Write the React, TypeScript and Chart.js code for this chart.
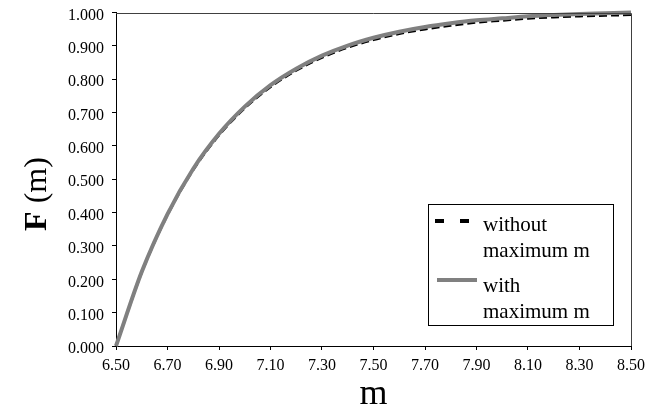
import React, { useEffect, useRef } from "react";
import { Chart, registerables } from "chart.js";

Chart.register(...registerables);

const magnitudes = [6.5, 6.6, 6.7, 6.8, 6.9, 7.0, 7.1, 7.2, 7.3, 7.4, 7.5, 7.6, 7.7, 7.8, 7.9, 8.0, 8.1, 8.2, 8.3, 8.4, 8.5];
const withoutMax = [0, 0.221, 0.393, 0.528, 0.632, 0.713, 0.777, 0.826, 0.865, 0.895, 0.918, 0.936, 0.95, 0.961, 0.97, 0.976, 0.982, 0.986, 0.989, 0.991, 0.993];
const withMax = [0, 0.2225, 0.3957, 0.5316, 0.6363, 0.7178, 0.7822, 0.8316, 0.8708, 0.901, 0.9242, 0.9423, 0.9564, 0.9675, 0.9765, 0.9826, 0.9886, 0.9926, 0.9957, 0.9977, 1.0];
const xTitle = "m";
const yTitleBold = "F";
const yTitleRest = " (m)";
const legendWithout = ["without", "maximum m"];
const legendWith = ["with", "maximum m"];

const SERIF = '"Liberation Serif", "Times New Roman", serif';

const overlayPlugin = {
  id: "overlay",
  afterDraw(chart: any) {
    const ctx = chart.ctx as CanvasRenderingContext2D;
    const a = chart.chartArea;
    ctx.save();
    // plot border (top and right)
    ctx.strokeStyle = "#404040";
    ctx.lineWidth = 1;
    ctx.beginPath();
    ctx.moveTo(a.left, Math.round(a.top) + 0.5);
    ctx.lineTo(Math.round(a.right) + 0.5, Math.round(a.top) + 0.5);
    ctx.lineTo(Math.round(a.right) + 0.5, a.bottom);
    ctx.stroke();

    // x title
    ctx.fillStyle = "#000";
    ctx.font = `36px ${SERIF}`;
    ctx.textAlign = "center";
    ctx.textBaseline = "alphabetic";
    ctx.fillText(xTitle, (a.left + a.right) / 2, 404);

    // y title
    ctx.save();
    ctx.translate(46, 194);
    ctx.rotate(-Math.PI / 2);
    ctx.font = `bold 32px ${SERIF}`;
    const wb = ctx.measureText(yTitleBold).width;
    ctx.font = `32px ${SERIF}`;
    const wr = ctx.measureText(yTitleRest).width;
    const start = -(wb + wr) / 2;
    ctx.textAlign = "left";
    ctx.font = `bold 32px ${SERIF}`;
    ctx.fillText(yTitleBold, start, 0);
    ctx.font = `32px ${SERIF}`;
    ctx.fillText(yTitleRest, start + wb, 0);
    ctx.restore();

    // legend
    const lx = 428, ly = 204, lw = 185, lh = 121;
    ctx.fillStyle = "#fff";
    ctx.fillRect(lx, ly, lw, lh);
    ctx.strokeStyle = "#000";
    ctx.lineWidth = 1;
    ctx.strokeRect(lx + 0.5, ly + 0.5, lw, lh);

    ctx.lineWidth = 4;
    ctx.strokeStyle = "#000";
    ctx.setLineDash([9, 16]);
    ctx.beginPath();
    ctx.moveTo(435, 221);
    ctx.lineTo(477, 221);
    ctx.stroke();
    ctx.setLineDash([]);
    ctx.strokeStyle = "#808080";
    ctx.beginPath();
    ctx.moveTo(437, 280);
    ctx.lineTo(477, 280);
    ctx.stroke();

    ctx.fillStyle = "#000";
    ctx.font = `21px ${SERIF}`;
    ctx.textAlign = "left";
    ctx.fillText(legendWithout[0], 483, 231);
    ctx.fillText(legendWithout[1], 483, 257);
    ctx.fillText(legendWith[0], 483, 292);
    ctx.fillText(legendWith[1], 483, 318);
    ctx.restore();
  },
};

export default function App() {
  const ref = useRef<HTMLCanvasElement | null>(null);
  useEffect(() => {
    if (!ref.current) return;
    const chart = new Chart(ref.current, {
      type: "line",
      data: {
        labels: magnitudes,
        datasets: [
          {
            label: "with maximum m",
            data: magnitudes.map((m, i) => ({ x: m, y: withMax[i] })),
            borderColor: "#808080",
            borderWidth: 4,
            pointRadius: 0,
            cubicInterpolationMode: "monotone",
            order: 0,
            clip: false,
          },
          {
            label: "without maximum m",
            data: magnitudes.map((m, i) => ({ x: m, y: withoutMax[i] })),
            borderColor: "#000000",
            borderWidth: 2.5,
            borderDash: [8, 4],
            pointRadius: 0,
            cubicInterpolationMode: "monotone",
            order: 1,
            clip: false,
          },
        ],
      } as any,
      options: {
        responsive: false,
        animation: false,
        layout: { padding: { top: 12.5, right: 35, left: 0, bottom: 0 } },
        plugins: { legend: { display: false }, tooltip: { enabled: false } },
        scales: {
          x: {
            type: "linear",
            min: 6.5,
            max: 8.5,
            afterFit: (s: any) => { s.height = 68; s.paddingLeft = 0; s.paddingRight = 0; },
            ticks: {
              stepSize: 0.2,
              color: "#000",
              font: { family: SERIF, size: 16 },
              padding: 6,
              maxRotation: 0,
              autoSkip: false,
              callback: (v: any) => Number(v).toFixed(2),
            },
            grid: { drawOnChartArea: false, drawTicks: true, tickLength: 4, color: "#000" },
            border: { display: true, color: "#000", width: 1 },
          },
          y: {
            type: "linear",
            min: 0,
            max: 1,
            afterFit: (s: any) => { s.width = 116; s.paddingTop = 0; s.paddingBottom = 0; },
            ticks: {
              stepSize: 0.1,
              color: "#000",
              font: { family: SERIF, size: 16 },
              padding: 8,
              labelOffset: 3,
              autoSkip: false,
              callback: (v: any) => Number(v).toFixed(3),
            },
            grid: { drawOnChartArea: false, drawTicks: true, tickLength: 4, color: "#000" },
            border: { display: true, color: "#000", width: 1 },
          },
        },
      } as any,
      plugins: [overlayPlugin],
    });
    return () => chart.destroy();
  }, []);
  return (
    <div style={{ position: "fixed", left: 0, top: 0, width: 666, height: 414, background: "#fff" }}>
      <canvas ref={ref} width={666} height={414} style={{ display: "block", width: 666, height: 414 }} />
    </div>
  );
}
